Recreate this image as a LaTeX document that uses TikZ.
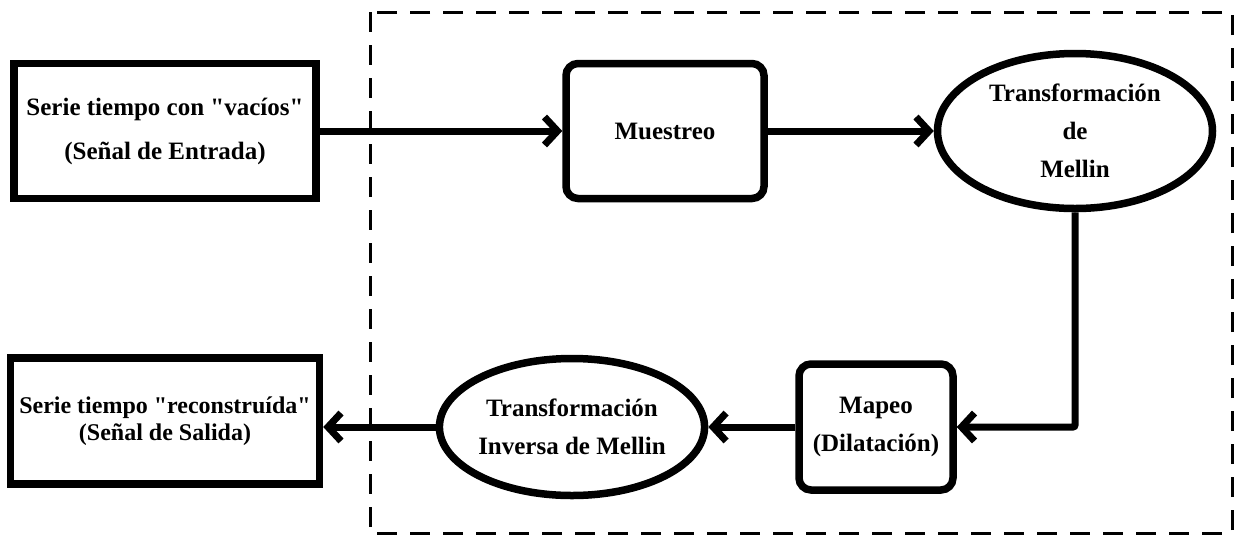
\documentclass[tikz,border=0pt]{standalone}
\usepackage{fontspec}
\setmainfont{Liberation Serif}[Ligatures=TeXOff]
\usetikzlibrary{arrows.meta,shapes.geometric}
\begin{document}
\begin{tikzpicture}[x=1pt,y=-1pt,
  box/.style={draw,line width=7.5pt,align=center,inner sep=0pt,fill=white,
    font=\bfseries\fontsize{25}{38}\selectfont},
  rbox/.style={box,rounded corners=12pt},
  ebox/.style={box,ellipse},
  arr/.style={line width=7pt,-{Straight Barb[length=13pt,width=28pt]}},
  frame/.style={line width=3pt,dash pattern=on 20pt off 13pt}
]
\useasboundingbox (0,0) rectangle (1237,539);
\draw[frame] (370,12) rectangle (1232,533);

\node[box,minimum width=302pt,minimum height=135pt,
  font=\bfseries\fontsize{25}{44}\selectfont] (in) at (165,131)
  {Serie tiempo con "vacíos"\\(Señal de Entrada)};
\node[rbox,minimum width=198pt,minimum height=135pt] (mu) at (665,131) {Muestreo};
\node[ebox,minimum width=275pt,minimum height=155pt] (tm) at (1075,131)
  {\rule{0pt}{14pt}Transformación\\de\\Mellin};
\node[box,minimum width=309pt,minimum height=126pt,
  font=\bfseries\fontsize{24}{27}\selectfont] (out) at (165,421)
  {Serie tiempo "reconstruída"\\(Señal de Salida)};
\node[ebox,minimum width=253pt,minimum height=137pt] (itm) at (572,427)
  {Transformación\\Inversa de Mellin};
\node[rbox,minimum width=154pt,minimum height=126pt] (map) at (876,427)
  {Mapeo\\(Dilatación)};

\draw[arr] (in.east |- mu.west) -- (mu.west);
\draw[arr] (mu.east) -- (tm.west);
\draw[arr,rounded corners=2pt] (tm.south) |- (map.east);
\draw[arr] (map.west) -- (itm.east);
\draw[arr] (itm.west) -- (itm.west -| out.east);
\end{tikzpicture}
\end{document}
